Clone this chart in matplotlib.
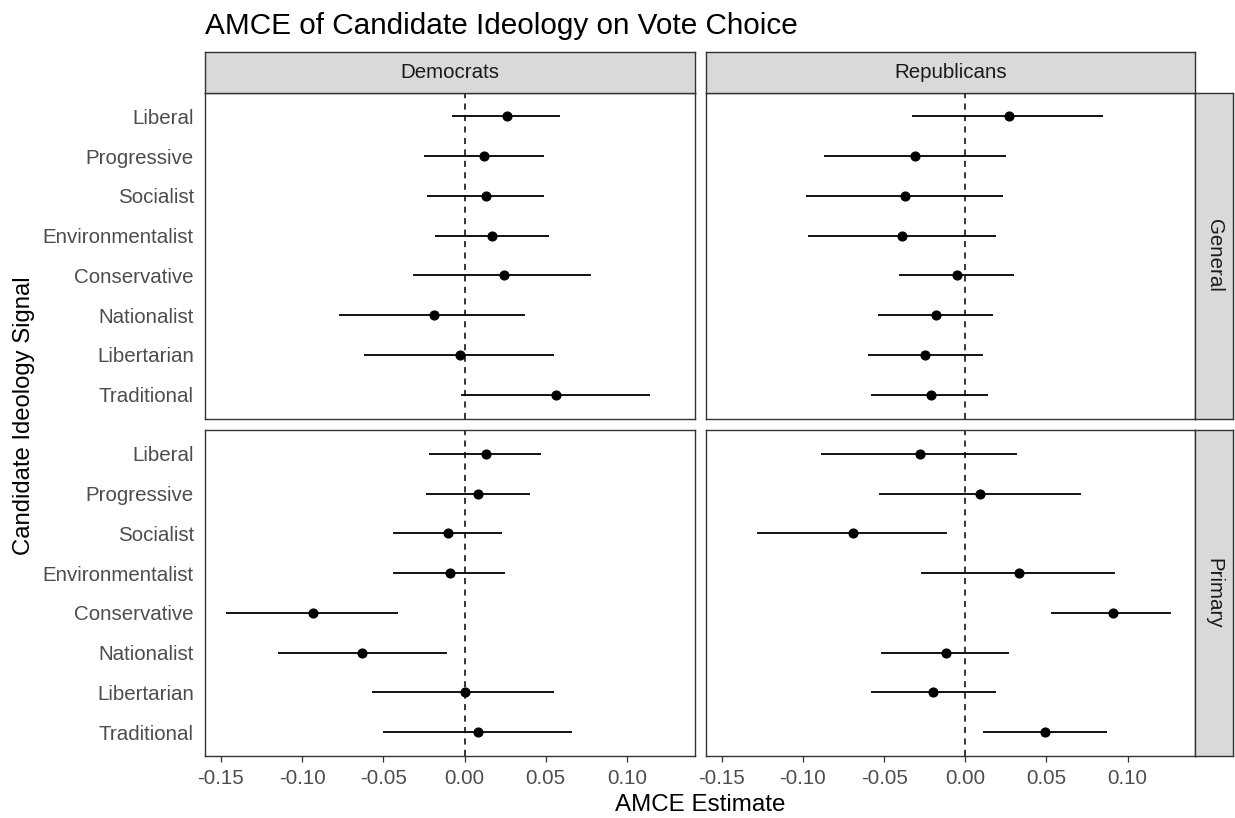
import numpy as np
import matplotlib
matplotlib.use("Agg")
import matplotlib.pyplot as plt

### Data (top row of each panel first)
ideologies = ["Liberal", "Progressive", "Socialist", "Environmentalist",
              "Conservative", "Nationalist", "Libertarian", "Traditional"]
parties = ["Democrats", "Republicans"]
elections = ["General", "Primary"]

dem_gen_est = [0.026, 0.012, 0.013, 0.017, 0.024, -0.019, -0.003, 0.056]
dem_gen_lo = [-0.008, -0.025, -0.023, -0.018, -0.032, -0.077, -0.062, -0.002]
dem_gen_hi = [0.059, 0.049, 0.049, 0.052, 0.078, 0.037, 0.055, 0.114]

rep_gen_est = [0.027, -0.031, -0.037, -0.039, -0.005, -0.018, -0.025, -0.021]
rep_gen_lo = [-0.033, -0.087, -0.098, -0.097, -0.041, -0.054, -0.060, -0.058]
rep_gen_hi = [0.085, 0.025, 0.023, 0.019, 0.030, 0.017, 0.011, 0.014]

dem_pri_est = [0.013, 0.008, -0.010, -0.009, -0.093, -0.063, 0.000, 0.008]
dem_pri_lo = [-0.022, -0.024, -0.044, -0.044, -0.147, -0.115, -0.057, -0.050]
dem_pri_hi = [0.047, 0.040, 0.023, 0.025, -0.041, -0.011, 0.055, 0.066]

rep_pri_est = [-0.028, 0.009, -0.069, 0.033, 0.091, -0.012, -0.020, 0.049]
rep_pri_lo = [-0.089, -0.053, -0.128, -0.027, 0.053, -0.052, -0.058, 0.011]
rep_pri_hi = [0.032, 0.071, -0.011, 0.092, 0.127, 0.027, 0.019, 0.087]

xticks = [-0.15, -0.10, -0.05, 0.00, 0.05, 0.10]

panels = {
    ("General", "Democrats"): (dem_gen_est, dem_gen_lo, dem_gen_hi),
    ("General", "Republicans"): (rep_gen_est, rep_gen_lo, rep_gen_hi),
    ("Primary", "Democrats"): (dem_pri_est, dem_pri_lo, dem_pri_hi),
    ("Primary", "Republicans"): (rep_pri_est, rep_pri_lo, rep_pri_hi),
}

plt.rcParams['font.family'] = ['Liberation Sans', 'DejaVu Sans']

W, H = 1235, 818
fig = plt.figure(figsize=(W / 100, H / 100), dpi=100)
fig.patch.set_facecolor('white')

def box(x0, y0, x1, y1):
    # pixel box (top-left origin) -> figure fraction rect
    return [x0 / W, 1 - y1 / H, (x1 - x0) / W, (y1 - y0) / H]

col_x = [(205, 694.5), (706, 1195)]
row_y = [(92.5, 418.5), (430, 756)]
border = '#333333'
strip_fill = '#D9D9D9'
tick_size = 14.8
ypos = np.arange(len(ideologies))[::-1] + 1

for r, elec in enumerate(elections):
    for c, party in enumerate(parties):
        est, lo, hi = panels[(elec, party)]
        ax = fig.add_axes(box(col_x[c][0], row_y[r][0], col_x[c][1], row_y[r][1]))
        ax.axvline(0, color='black', lw=1.1, ls=(0, (4, 3.5)), zorder=1)
        ax.hlines(ypos, lo, hi, color='black', lw=1.3, zorder=2)
        ax.plot(est, ypos, 'o', color='black', ms=6.3, zorder=3)
        ax.set_xlim(-0.1597, 0.1415)
        ax.set_ylim(0.4, len(ideologies) + 0.6)
        ax.set_yticks(ypos)
        ax.set_xticks(xticks)
        if c == 0:
            ax.set_yticklabels(ideologies)
        else:
            ax.set_yticklabels([])
        if r == 1:
            ax.set_xticklabels(['%.2f' % v for v in xticks])
        else:
            ax.set_xticklabels([])
        ax.tick_params(axis='y', length=0, pad=8, labelsize=tick_size, labelcolor='#4D4D4D')
        ax.tick_params(axis='x', length=4.5, width=0.9, color=border, pad=5,
                       labelsize=tick_size, labelcolor='#4D4D4D')
        if r == 0:
            ax.tick_params(axis='x', length=0)
        for s in ax.spines.values():
            s.set_color(border)
            s.set_linewidth(1.0)

        # column strips
        if r == 0:
            sax = fig.add_axes(box(col_x[c][0], 51.7, col_x[c][1], row_y[0][0]))
            sax.set_facecolor(strip_fill)
            sax.set_xticks([])
            sax.set_yticks([])
            for s in sax.spines.values():
                s.set_color(border)
                s.set_linewidth(1.0)
            sax.text(0.5, 0.5, party, ha='center', va='center', fontsize=tick_size,
                     color='#1A1A1A', transform=sax.transAxes)
        # row strips
        if c == 1:
            sax = fig.add_axes(box(1195, row_y[r][0], 1233, row_y[r][1]))
            sax.set_facecolor(strip_fill)
            sax.set_xticks([])
            sax.set_yticks([])
            for s in sax.spines.values():
                s.set_color(border)
                s.set_linewidth(1.0)
            sax.text(0.5, 0.5, elec, ha='center', va='center', fontsize=tick_size,
                     color='#1A1A1A', rotation=-90, transform=sax.transAxes)

fig.text(205 / W, 1 - 34 / H, "AMCE of Candidate Ideology on Vote Choice",
         ha='left', va='baseline', fontsize=21.4, color='black')
fig.text(700 / W, 1 - 805 / H, "AMCE Estimate", ha='center', va='center',
         fontsize=17.4, color='black')
fig.text(24 / W, 1 - 416 / H, "Candidate Ideology Signal", ha='center', va='center',
         rotation=90, fontsize=17.2, color='black')

fig.savefig('out.png', dpi=100)
